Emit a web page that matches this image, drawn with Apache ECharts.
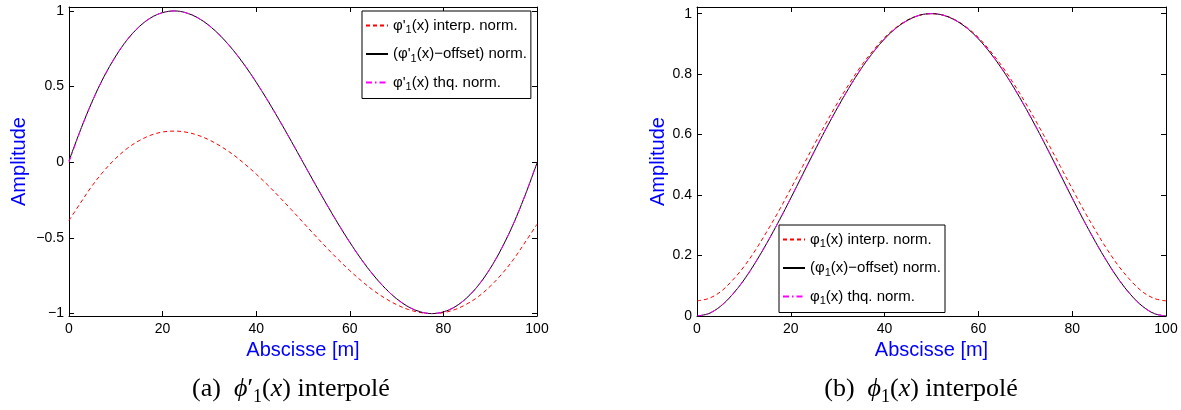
<!DOCTYPE html>
<html>
<head>
<meta charset="utf-8">
<script src="https://cdn.jsdelivr.net/npm/echarts@6/dist/echarts.min.js"></script>
<style>
html,body{margin:0;padding:0;background:#fff;}
#chart{width:1181px;height:410px;}
</style>
</head>
<body>
<div id="chart"></div>
<script>
// ---- data ----
const xValues = [0,2.5,5,7.5,10,12.5,15,17.5,20,22.5,25,27.5,30,32.5,35,37.5,40,42.5,45,47.5,50,
  52.5,55,57.5,60,62.5,65,67.5,70,72.5,75,77.5,80,82.5,85,87.5,90,92.5,95,97.5,100];

// (a) derivative phi'_1
const dphiInterp = [-0.385,-0.267,-0.153,-0.056,0.026,0.093,0.143,0.179,0.200,0.206,0.199,0.179,0.147,0.104,0.052,-0.010,-0.078,-0.152,-0.231,-0.313,-0.397,
  -0.481,-0.563,-0.642,-0.716,-0.784,-0.846,-0.898,-0.941,-0.973,-0.993,-1.000,-0.994,-0.973,-0.937,-0.887,-0.820,-0.738,-0.641,-0.527,-0.410];
const dphiOffset = [0.010,0.217,0.405,0.567,0.702,0.812,0.896,0.955,0.989,1.000,0.988,0.955,0.902,0.831,0.744,0.643,0.529,0.406,0.275,0.139,0.000,
  -0.139,-0.275,-0.406,-0.529,-0.643,-0.744,-0.831,-0.902,-0.955,-0.988,-1.000,-0.989,-0.955,-0.896,-0.812,-0.702,-0.566,-0.404,-0.215,-0.005];
const dphiThq = [0.000,0.215,0.404,0.566,0.702,0.812,0.896,0.955,0.989,1.000,0.988,0.955,0.902,0.831,0.744,0.643,0.529,0.406,0.275,0.139,0.000,
  -0.139,-0.275,-0.406,-0.529,-0.643,-0.744,-0.831,-0.902,-0.955,-0.988,-1.000,-0.989,-0.955,-0.896,-0.812,-0.702,-0.566,-0.404,-0.215,0.000];

// (b) phi_1
const phiInterp = [0.050,0.058,0.080,0.117,0.163,0.219,0.282,0.349,0.421,0.494,0.567,0.638,0.706,0.769,0.827,0.877,0.921,0.955,0.980,0.995,1.000,
  0.995,0.980,0.955,0.921,0.877,0.827,0.769,0.706,0.638,0.567,0.494,0.421,0.349,0.282,0.219,0.163,0.117,0.080,0.058,0.050];
const phiOffset = [0.000,0.008,0.032,0.070,0.119,0.178,0.244,0.315,0.390,0.467,0.544,0.619,0.690,0.757,0.818,0.871,0.917,0.953,0.979,0.995,1.000,
  0.995,0.979,0.953,0.917,0.871,0.818,0.757,0.690,0.619,0.544,0.467,0.390,0.315,0.244,0.178,0.119,0.070,0.032,0.008,0.000];
const phiThq = [0.000,0.008,0.032,0.070,0.119,0.178,0.244,0.315,0.390,0.467,0.544,0.619,0.690,0.757,0.818,0.871,0.917,0.953,0.979,0.995,1.000,
  0.995,0.979,0.953,0.917,0.871,0.818,0.757,0.690,0.619,0.544,0.467,0.390,0.315,0.244,0.178,0.119,0.070,0.032,0.008,0.000];

const xTicks = [0,20,40,60,80,100];
const yTicksA = [-1,-0.5,0,0.5,1];
const yTicksB = [0,0.2,0.4,0.6,0.8,1];

const namesA = ["φ'1(x) interp. norm.", "(φ'1(x)−offset) norm.", "φ'1(x) thq. norm."];
const namesB = ["φ1(x) interp. norm.", "(φ1(x)−offset) norm.", "φ1(x) thq. norm."];
const legendRich = {
  "φ'1(x) interp. norm.": "{t|φ'}{s|1}{t|(x) interp. norm.}",
  "(φ'1(x)−offset) norm.": "{t|(φ'}{s|1}{t|(x)−offset) norm.}",
  "φ'1(x) thq. norm.": "{t|φ'}{s|1}{t|(x) thq. norm.}",
  "φ1(x) interp. norm.": "{t|φ}{s|1}{t|(x) interp. norm.}",
  "(φ1(x)−offset) norm.": "{t|(φ}{s|1}{t|(x)−offset) norm.}",
  "φ1(x) thq. norm.": "{t|φ}{s|1}{t|(x) thq. norm.}"
};

// ---- chart ----
const SANS = 'Liberation Sans, Arial, Helvetica, sans-serif';
const SERIF = 'Liberation Serif, DejaVu Serif, Times New Roman, serif';
const pairs = arr => xValues.map((x, i) => [x, arr[i]]);
const fmtMinus = v => String(v).replace('-', '−');

function xAx(grid, pos, showLabel, name) {
  return {
    type: 'value', gridIndex: grid, position: pos, min: 0, max: 100, interval: 20,
    axisLine: {show: true, onZero: false, lineStyle: {color: '#000', width: 1}},
    axisTick: {show: true, inside: true, length: 5, lineStyle: {color: '#000'}},
    axisLabel: {show: showLabel, color: '#000', fontSize: 14, fontFamily: SANS, margin: 6,
      customValues: xTicks, formatter: fmtMinus},
    splitLine: {show: false},
    name: name || '', nameLocation: 'middle', nameGap: 15,
    nameTextStyle: {color: '#0000ff', fontSize: 20, fontFamily: SANS}
  };
}
function yAx(grid, pos, showLabel, min, max, ticks, name, gap) {
  return {
    type: 'value', gridIndex: grid, position: pos, min: min, max: max,
    axisLine: {show: true, onZero: false, lineStyle: {color: '#000', width: 1}},
    axisTick: {show: true, inside: true, length: 5, customValues: ticks, lineStyle: {color: '#000'}},
    axisLabel: {show: showLabel, color: '#000', fontSize: 14, fontFamily: SANS, margin: 5,
      customValues: ticks, formatter: fmtMinus},
    splitLine: {show: false},
    name: name || '', nameLocation: 'middle', nameGap: gap || 0, nameRotate: 90,
    nameTextStyle: {color: '#0000ff', fontSize: 20, fontFamily: SANS}
  };
}
function lineSeries(name, xi, yi, data, color, type, z) {
  return {
    name: name, type: 'line', xAxisIndex: xi, yAxisIndex: yi, data: pairs(data),
    smooth: 0.35, symbol: 'none', showSymbol: false, z: z,
    lineStyle: {color: color, width: 1, type: type}, itemStyle: {color: color},
    emphasis: {disabled: true}, animation: false
  };
}
function legend(names, left, top) {
  return {
    data: names, orient: 'vertical', left: left, top: top,
    itemWidth: 22, itemHeight: 10, itemGap: 11,
    itemStyle: {opacity: 0, borderWidth: 0},
    padding: [7, 4, 6, 3], borderColor: '#000', borderWidth: 1, backgroundColor: '#fff',
    formatter: n => legendRich[n],
    textStyle: {color: '#000', fontFamily: SANS, fontSize: 15,
      rich: {t: {fontSize: 15, fontFamily: SANS, color: '#000', lineHeight: 20},
             s: {fontSize: 11, fontFamily: SANS, color: '#000', verticalAlign: 'bottom'}}},
    selectedMode: false
  };
}

const dashRed = [4, 3];
const dashDot = [6, 3, 1.5, 3];

const chart = echarts.init(document.getElementById('chart'), null, {renderer: 'canvas'});
chart.setOption({
  animation: false,
  backgroundColor: '#fff',
  grid: [
    {left: 69, right: 644, top: 7, bottom: 94},
    {left: 697, right: 15, top: 7, bottom: 94}
  ],
  xAxis: [
    xAx(0, 'bottom', true, 'Abscisse [m]'),
    xAx(0, 'top', false),
    xAx(1, 'bottom', true, 'Abscisse [m]'),
    xAx(1, 'top', false)
  ],
  yAxis: [
    yAx(0, 'left', true, -1.016, 1.026, yTicksA, 'Amplitude', 40),
    yAx(0, 'right', false, -1.016, 1.026, yTicksA),
    yAx(1, 'left', true, 0, 1.022, yTicksB, 'Amplitude', 28),
    yAx(1, 'right', false, 0, 1.022, yTicksB)
  ],
  legend: [legend(namesA, 362, 11), legend(namesB, 779, 225)],
  series: [
    lineSeries(namesA[0], 0, 0, dphiInterp, '#ff0000', dashRed, 2),
    lineSeries(namesA[1], 0, 0, dphiOffset, '#000000', 'solid', 3),
    lineSeries(namesA[2], 0, 0, dphiThq, '#ff00ff', dashDot, 4),
    lineSeries(namesB[0], 2, 2, phiInterp, '#ff0000', dashRed, 2),
    lineSeries(namesB[1], 2, 2, phiOffset, '#000000', 'solid', 3),
    lineSeries(namesB[2], 2, 2, phiThq, '#ff00ff', dashDot, 4)
  ],
  graphic: [
    {type: 'text', x: 291, y: 389, silent: true, style: {
      text: '{n|(a)  }{i|ϕ}{n|′}{s|1}{n|(}{i|x}{n|) interpolé}',
      align: 'center', verticalAlign: 'middle',
      rich: {
        n: {fontFamily: SERIF, fontSize: 26, lineHeight: 34, fill: '#000'},
        i: {fontFamily: SERIF, fontSize: 26, fontStyle: 'italic', lineHeight: 34, fill: '#000'},
        s: {fontFamily: SERIF, fontSize: 18, verticalAlign: 'bottom', fill: '#000'}
      }}},
    {type: 'text', x: 921, y: 389, silent: true, style: {
      text: '{n|(b)  }{i|ϕ}{s|1}{n|(}{i|x}{n|) interpolé}',
      align: 'center', verticalAlign: 'middle',
      rich: {
        n: {fontFamily: SERIF, fontSize: 26, lineHeight: 34, fill: '#000'},
        i: {fontFamily: SERIF, fontSize: 26, fontStyle: 'italic', lineHeight: 34, fill: '#000'},
        s: {fontFamily: SERIF, fontSize: 18, verticalAlign: 'bottom', fill: '#000'}
      }}}
  ]
});
</script>
</body>
</html>
